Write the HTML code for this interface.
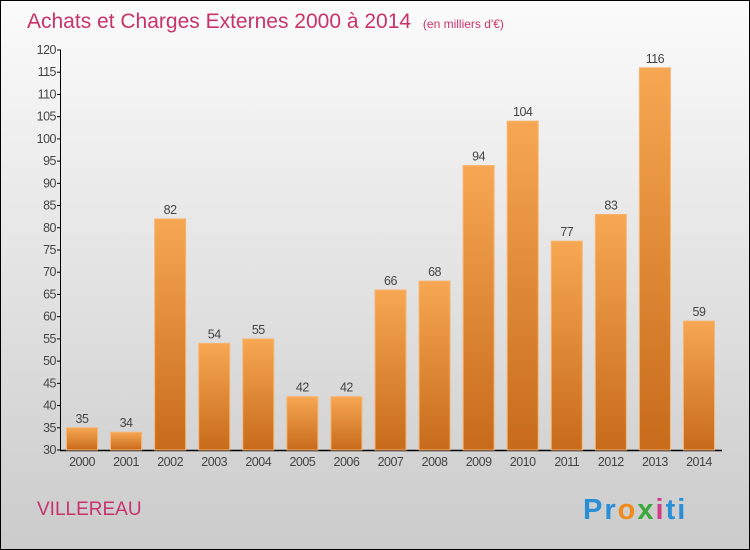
<!DOCTYPE html>
<html><head><meta charset="utf-8">
<style>
html,body{margin:0;padding:0}
body{width:750px;height:550px;overflow:hidden;font-family:"Liberation Sans",sans-serif}
#wrap{position:relative;width:748px;height:548px;border:1px solid #000;background:linear-gradient(#fbfbfb,#cbcbcb)}
</style></head>
<body>
<div id="wrap">
<svg id="chart" width="748" height="548" style="position:absolute;left:0;top:0">
<defs>
<linearGradient id="bg" x1="0" y1="0" x2="0" y2="1">
<stop offset="0" stop-color="#f7a752"/><stop offset="1" stop-color="#c76b1b"/>
</linearGradient>
</defs>
<text x="26" y="27" font-size="21" fill="#c8336a">Achats et Charges Externes 2000 à 2014 <tspan font-size="12" dx="6">(en milliers d'€)</tspan></text>
<text x="36" y="514" font-size="19" fill="#c8336a">VILLEREAU</text>
<text x="582" y="518" font-size="29" font-weight="bold" letter-spacing="2"><tspan fill="#2a8fd6">Pr</tspan><tspan fill="#f08a1c">o</tspan><tspan fill="#3aa83a">x</tspan><tspan fill="#d23a8a">i</tspan><tspan fill="#2a8fd6">ti</tspan></text>
<g id="axes"></g>
<g id="bars"></g>
</svg>
</div>
<script>
const categories=["2000","2001","2002","2003","2004","2005","2006","2007","2008","2009","2010","2011","2012","2013","2014"];
const values=[35,34,82,54,55,42,42,66,68,94,104,77,83,116,59];
const yTicks=[30,35,40,45,50,55,60,65,70,75,80,85,90,95,100,105,110,115,120];
const NS="http://www.w3.org/2000/svg";
const y0=449,y1=49,vmin=30,vmax=120;
function y(v){return y0-(v-vmin)/(vmax-vmin)*(y0-y1);}
function xc(i){return 81+i*44.07;}
const axes=document.getElementById('axes'),bars=document.getElementById('bars');
function mk(t,a,p){const e=document.createElementNS(NS,t);for(const k in a)e.setAttribute(k,a[k]);p.appendChild(e);return e;}
const ya=mk('line',{x1:59.5,y1:y1,x2:59.5,y2:y0,stroke:'#000','stroke-width':1},axes);


const xa=mk('line',{x1:59,y1:y0+0.5,x2:721,y2:y0+0.5,stroke:'#000','stroke-width':1.5},axes);


yTicks.forEach(v=>{
 const tk=mk('line',{x1:56,x2:60,y1:y(v),y2:y(v),stroke:'#000'},axes);
 
 
 const t=mk('text',{x:55,y:y(v)+4,'font-size':12.5,'text-anchor':'end',fill:'#444','letter-spacing':'-0.5'},axes);
 t.textContent=v;
 
 
});
categories.forEach((c,i)=>{
 const cx=xc(i),v=values[i];
 const r=mk('rect',{x:cx-15.5,y:y(v),width:31,height:y0-y(v),fill:'url(#bg)',stroke:'#f7b574','stroke-width':1},bars);
 
 
 const vl=mk('text',{x:cx,y:y(v)-5,'font-size':12.5,'text-anchor':'middle',fill:'#444','letter-spacing':'-0.5'},bars);
 vl.textContent=v;
 
 
 const xl=mk('text',{x:cx,y:465,'font-size':12.5,'text-anchor':'middle',fill:'#444','letter-spacing':'-0.5'},bars);
 xl.textContent=c;
 
 
});
</script>
</body></html>
